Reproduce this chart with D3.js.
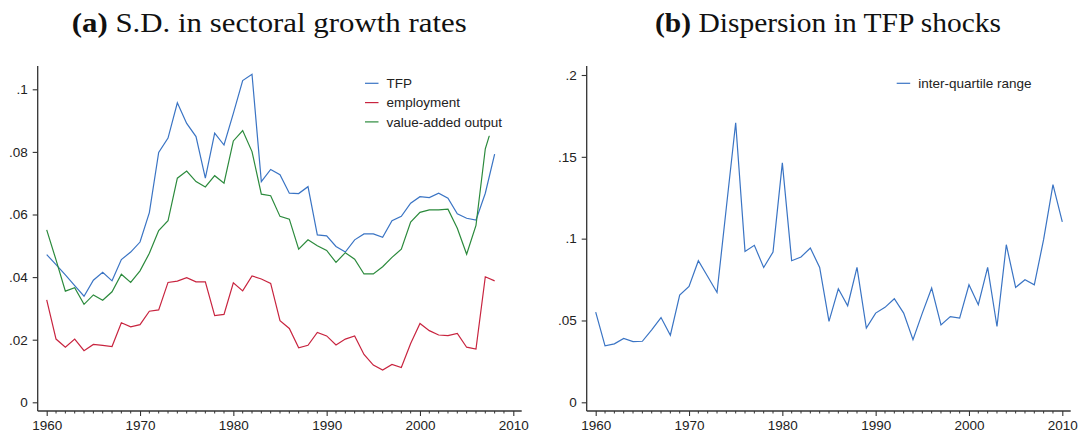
<!DOCTYPE html>
<html>
<head>
<meta charset="utf-8">
<script src="https://cdn.jsdelivr.net/npm/d3@7"></script>
<style>
  html, body { margin: 0; padding: 0; background: #fff; }
  svg { display: block; }
  .tick text { font-family: "Liberation Sans", Arial, sans-serif; font-size: 13.5px; fill: #222; }
  .legend text { font-family: "Liberation Sans", Arial, sans-serif; font-size: 13.5px; fill: #222; }
  .title { font-family: "Liberation Serif", "Times New Roman", serif; font-size: 27px; fill: #111; }
</style>
</head>
<body>
<svg id="chart" width="1079" height="432"></svg>
<script>
// Panel (a): cross-sector standard deviation of annual growth rates, 1960-2008
const yearsA = d3.range(1960, 2009);
const tfpSD = [
  0.0472, 0.0440, 0.0407, 0.0373, 0.0339, 0.0390, 0.0415, 0.0388, 0.0456, 0.0480,
  0.0512, 0.0606, 0.0798, 0.0844, 0.0957, 0.0891, 0.0849, 0.0716, 0.0860, 0.0822,
  0.0923, 0.1028, 0.1048, 0.0705, 0.0744, 0.0727, 0.0668, 0.0667, 0.0689, 0.0535,
  0.0532, 0.0498, 0.0480, 0.0519, 0.0538, 0.0538, 0.0527, 0.0580, 0.0594, 0.0636,
  0.0657, 0.0654, 0.0668, 0.0652, 0.0602, 0.0588, 0.0582, 0.0668, 0.0793
];
const employmentSD = [
  0.0327, 0.0202, 0.0176, 0.0202, 0.0165, 0.0185, 0.0182, 0.0178, 0.0254, 0.0241,
  0.0248, 0.0291, 0.0295, 0.0383, 0.0387, 0.0398, 0.0385, 0.0385, 0.0277, 0.0281,
  0.0382, 0.0356, 0.0404, 0.0394, 0.0380, 0.0261, 0.0236, 0.0174, 0.0182, 0.0223,
  0.0212, 0.0183, 0.0202, 0.0212, 0.0153, 0.0119, 0.0103, 0.0121, 0.0111, 0.0188,
  0.0252, 0.0229, 0.0215, 0.0213, 0.0220, 0.0176, 0.0170, 0.0401, 0.0388
];
const outputSD = [
  0.0551, 0.0455, 0.0355, 0.0366, 0.0313, 0.0343, 0.0326, 0.0353, 0.0409, 0.0383,
  0.0420, 0.0476, 0.0549, 0.0580, 0.0716, 0.0739, 0.0705, 0.0688, 0.0724, 0.0700,
  0.0835, 0.0868, 0.0801, 0.0665, 0.0660, 0.0594, 0.0585, 0.0489, 0.0519, 0.0500,
  0.0485, 0.0447, 0.0478, 0.0457, 0.0410, 0.0410, 0.0433, 0.0463, 0.0489, 0.0576,
  0.0607, 0.0615, 0.0615, 0.0617, 0.0556, 0.0473, 0.0565, 0.0810, 0.0907
];
const ticksA = [0, 0.02, 0.04, 0.06, 0.08, 0.1];
const tickLabelsA = ["0", ".02", ".04", ".06", ".08", ".1"];

// Panel (b): inter-quartile range of TFP shocks, 1960-2010
const yearsB = d3.range(1960, 2011);
const iqr = [
  0.0551, 0.0345, 0.0357, 0.0390, 0.0371, 0.0373, 0.0443, 0.0518, 0.0410, 0.0655,
  0.0708, 0.0865, 0.0769, 0.0671, 0.1190, 0.1708, 0.0922, 0.0959, 0.0824, 0.0918,
  0.1463, 0.0865, 0.0888, 0.0943, 0.0824, 0.0494, 0.0694, 0.0590, 0.0824, 0.0453,
  0.0545, 0.0580, 0.0633, 0.0545, 0.0382, 0.0545, 0.0698, 0.0473, 0.0524, 0.0514,
  0.0718, 0.0596, 0.0824, 0.0463, 0.0963, 0.0702, 0.0749, 0.0718, 0.0995, 0.1330,
  0.1102
];
const ticksB = [0, 0.05, 0.1, 0.15, 0.2];
const tickLabelsB = ["0", ".05", ".1", ".15", ".2"];

const decadeTicks = [1960, 1970, 1980, 1990, 2000, 2010];
const minorYears = d3.range(1960, 2011);

const COLORS = { tfp: "#3a74c4", emp: "#c8243f", out: "#2b8a3c" };
const AXIS = "#333";

const svg = d3.select("#chart");

function panel(opts) {
  const g = svg.append("g");
  const x = d3.scaleLinear().domain([1960, 2010]).range(opts.xRange);
  const y = d3.scaleLinear().domain(opts.yDomain).range(opts.yRange);

  // y axis
  const yAxis = d3.axisLeft(y).tickValues(opts.yTicks)
    .tickFormat((d, i) => opts.yLabels[i]).tickSize(5).tickPadding(5);
  const gy = g.append("g").attr("transform", `translate(${opts.left},0)`).call(yAxis);
  gy.select(".domain").remove();
  gy.append("line").attr("x1", 0).attr("x2", 0)
    .attr("y1", opts.top).attr("y2", opts.bottom)
    .attr("stroke", AXIS).attr("stroke-width", 1.3);
  gy.selectAll(".tick line").attr("stroke", AXIS).attr("stroke-width", 1.1);

  // x axis: labelled decades plus unlabelled yearly minor ticks
  const xAxis = d3.axisBottom(x).tickValues(decadeTicks)
    .tickFormat(d3.format("d")).tickSize(5).tickPadding(4);
  const gx = g.append("g").attr("transform", `translate(0,${opts.bottom})`).call(xAxis);
  gx.select(".domain").remove();
  gx.append("line").attr("x1", opts.left).attr("x2", opts.right)
    .attr("y1", 0).attr("y2", 0).attr("stroke", AXIS).attr("stroke-width", 1.3);
  gx.selectAll(".tick line").attr("stroke", AXIS).attr("stroke-width", 1.1);
  gx.selectAll(".minor").data(minorYears.filter(d => d % 10 !== 0)).enter()
    .append("line").attr("class", "minor")
    .attr("x1", d => x(d)).attr("x2", d => x(d))
    .attr("y1", 0).attr("y2", 2.5)
    .attr("stroke", AXIS).attr("stroke-width", 1);

  // series
  opts.series.forEach(s => {
    const line = d3.line().x((d, i) => x(s.years[i])).y(d => y(d));
    g.append("path").datum(s.values)
      .attr("d", line).attr("fill", "none")
      .attr("stroke", s.color).attr("stroke-width", 1.2)
      .attr("stroke-linejoin", "miter");
  });

  // legend: opaque box in the upper right of the plot region
  const lg = g.append("g").attr("class", "legend");
  lg.append("rect")
    .attr("x", opts.legend.x - 8).attr("y", opts.legend.y - 12)
    .attr("width", opts.legend.w).attr("height", opts.legend.h)
    .attr("fill", "#fff");
  opts.series.forEach((s, i) => {
    const yy = opts.legend.y + i * 19.3;
    lg.append("line").attr("x1", opts.legend.x).attr("x2", opts.legend.x + 13.5)
      .attr("y1", yy).attr("y2", yy)
      .attr("stroke", s.color).attr("stroke-width", 1.2);
    lg.append("text").attr("x", opts.legend.x + 21.5).attr("y", yy + 4.8)
      .text(s.label);
  });

  // title
  const t = svg.append("text").attr("class", "title")
    .attr("x", opts.title.x).attr("y", 32)
    .attr("textLength", opts.title.w).attr("lengthAdjust", "spacingAndGlyphs");
  t.append("tspan").attr("font-weight", "bold").text(opts.title.tag);
  t.append("tspan").text(" " + opts.title.text);
}

panel({
  xRange: [46.7, 513.3],
  yDomain: [0, 0.1], yRange: [402.3, 89.3],
  yTicks: ticksA, yLabels: tickLabelsA,
  left: 37.7, right: 521.7, top: 66, bottom: 411,
  series: [
    { years: yearsA, values: tfpSD, color: COLORS.tfp, label: "TFP" },
    { years: yearsA, values: employmentSD, color: COLORS.emp, label: "employment" },
    { years: yearsA, values: outputSD, color: COLORS.out, label: "value-added output" }
  ],
  legend: { x: 365, y: 83.3, w: 152, h: 64.5 },
  title: { x: 71.7, w: 395, tag: "(a)", text: "S.D. in sectoral growth rates" }
});

panel({
  xRange: [595.7, 1062.3],
  yDomain: [0, 0.2], yRange: [402.3, 75],
  yTicks: ticksB, yLabels: tickLabelsB,
  left: 586.7, right: 1070.7, top: 66, bottom: 411,
  series: [
    { years: yearsB, values: iqr, color: COLORS.tfp, label: "inter-quartile range" }
  ],
  legend: { x: 896.7, y: 83.3, w: 150, h: 24 },
  title: { x: 655, w: 346, tag: "(b)", text: "Dispersion in TFP shocks" }
});
</script>
</body>
</html>
